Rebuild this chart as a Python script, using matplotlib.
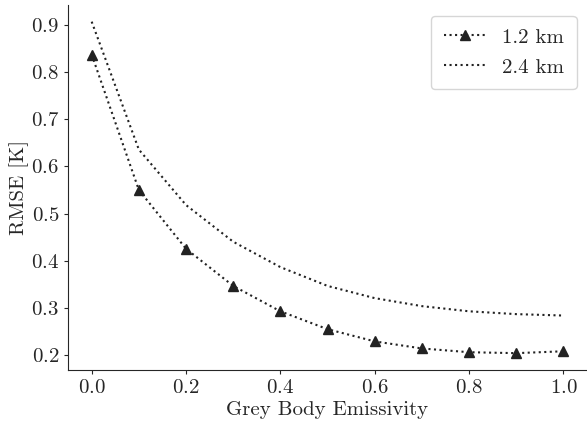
import matplotlib
import matplotlib.pyplot as plt
import seaborn as sns

matplotlib.use("Agg")

emissivity = [0.0, 0.1, 0.2, 0.3, 0.4, 0.5, 0.6, 0.7, 0.8, 0.9, 1.0]
rmse_12km = [0.838, 0.550, 0.425, 0.346, 0.292, 0.254, 0.228, 0.213, 0.205, 0.203, 0.207]
rmse_24km = [0.908, 0.636, 0.518, 0.440, 0.386, 0.346, 0.320, 0.303, 0.292, 0.286, 0.283]
labels = ["1.2 km", "2.4 km"]

sns.set_style("ticks")
plt.rcParams["font.family"] = "serif"
plt.rcParams["font.serif"] = ["cmr10", "DejaVu Serif"]
plt.rcParams["mathtext.fontset"] = "cm"
plt.rcParams["axes.formatter.use_mathtext"] = True
plt.rcParams["font.size"] = 15

fig = plt.figure(figsize=(5.87, 4.24), dpi=100)
ax = fig.add_axes([0.116, 0.128, 0.884, 0.86])

color = "#222222"
ax.plot(emissivity, rmse_12km, linestyle=":", marker="^", color=color,
        linewidth=1.5, markersize=6.5, label=labels[0])
ax.plot(emissivity, rmse_24km, linestyle=":", color=color,
        linewidth=1.5, label=labels[1])

ax.set_xlabel("Grey Body Emissivity", fontsize=15, labelpad=3)
ax.set_ylabel("RMSE [K]", fontsize=15, labelpad=1)
ax.set_xticks([0.0, 0.2, 0.4, 0.6, 0.8, 1.0])
ax.set_yticks([0.2, 0.3, 0.4, 0.5, 0.6, 0.7, 0.8, 0.9])
ax.tick_params(labelsize=15, length=3)
ax.legend(loc="upper right", fontsize=15, handlelength=2.0,
          labelspacing=0.55, borderpad=0.6)
sns.despine(ax=ax)

fig.savefig("out.png", dpi=100)
